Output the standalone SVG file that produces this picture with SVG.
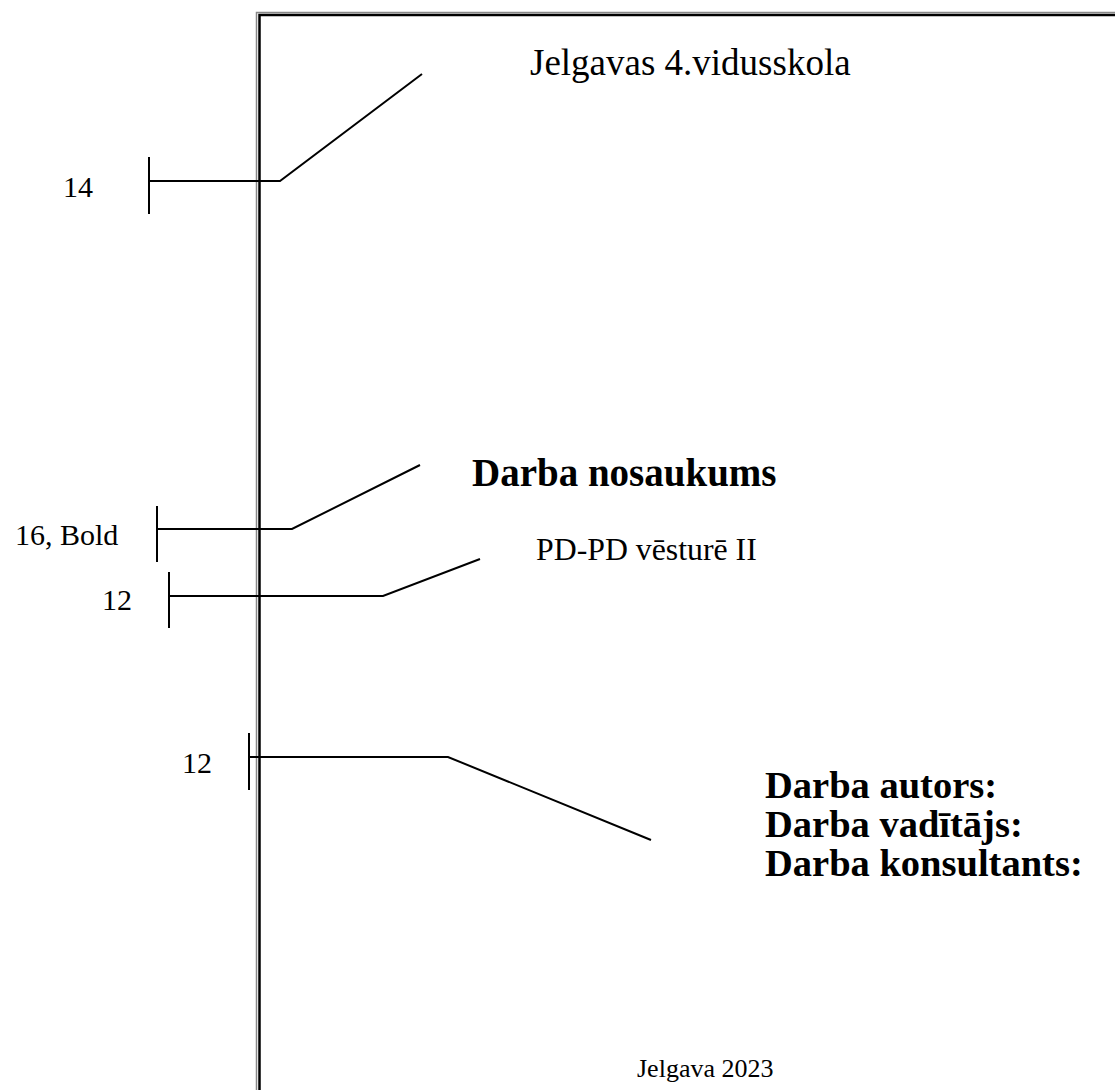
<svg xmlns="http://www.w3.org/2000/svg" width="1115" height="1090" viewBox="0 0 1115 1090">
<style>
.t{font-family:"Liberation Serif","Times New Roman",serif;fill:#000}
.b{font-weight:bold}
.c{fill:none;stroke:#000;stroke-width:2}
.g{fill:none;stroke:#888;stroke-width:1.5}
.k{fill:none;stroke:#000;stroke-width:2.5}
</style>
<rect width="1115" height="1090" fill="#fff"/>
<g id="page-border">
<path class="g" d="M256.5,1090 V12.5 H1115"/>
<path class="k" d="M259.5,1090 V15 H1115"/>
</g>
<g id="connectors">
<path class="c" d="M149,157 V214 M149,181 H280 L422,74"/>
<path class="c" d="M157,506 V562 M157,529 H292 L420,465"/>
<path class="c" d="M169,572 V628 M169,596 H383 L480,559"/>
<path class="c" d="M249,733 V790 M249,757 H448 L651,840"/>
</g>
<g id="school"><text class="t" x="530" y="75" font-size="37">Jelgavas 4.vidusskola</text></g>
<g id="title"><text class="t b" x="472" y="486" font-size="39">Darba nosaukums</text></g>
<g id="subtitle"><text class="t" x="536" y="560" font-size="31.8">PD-PD vēsturē II</text></g>
<g id="people">
<text class="t b" x="765" y="798" font-size="38.5">Darba autors:</text>
<text class="t b" x="765" y="837" font-size="38.5">Darba vadītājs:</text>
<text class="t b" x="765" y="876" font-size="38.5">Darba konsultants:</text>
</g>
<g id="place-year"><text class="t" x="637" y="1077" font-size="26">Jelgava 2023</text></g>
<g id="label-14"><text class="t" x="63" y="197" font-size="30">14</text></g>
<g id="label-16bold"><text class="t" x="15" y="545" font-size="30">16, Bold</text></g>
<g id="label-12a"><text class="t" x="102" y="610" font-size="30">12</text></g>
<g id="label-12b"><text class="t" x="182" y="773" font-size="30">12</text></g>
</svg>
